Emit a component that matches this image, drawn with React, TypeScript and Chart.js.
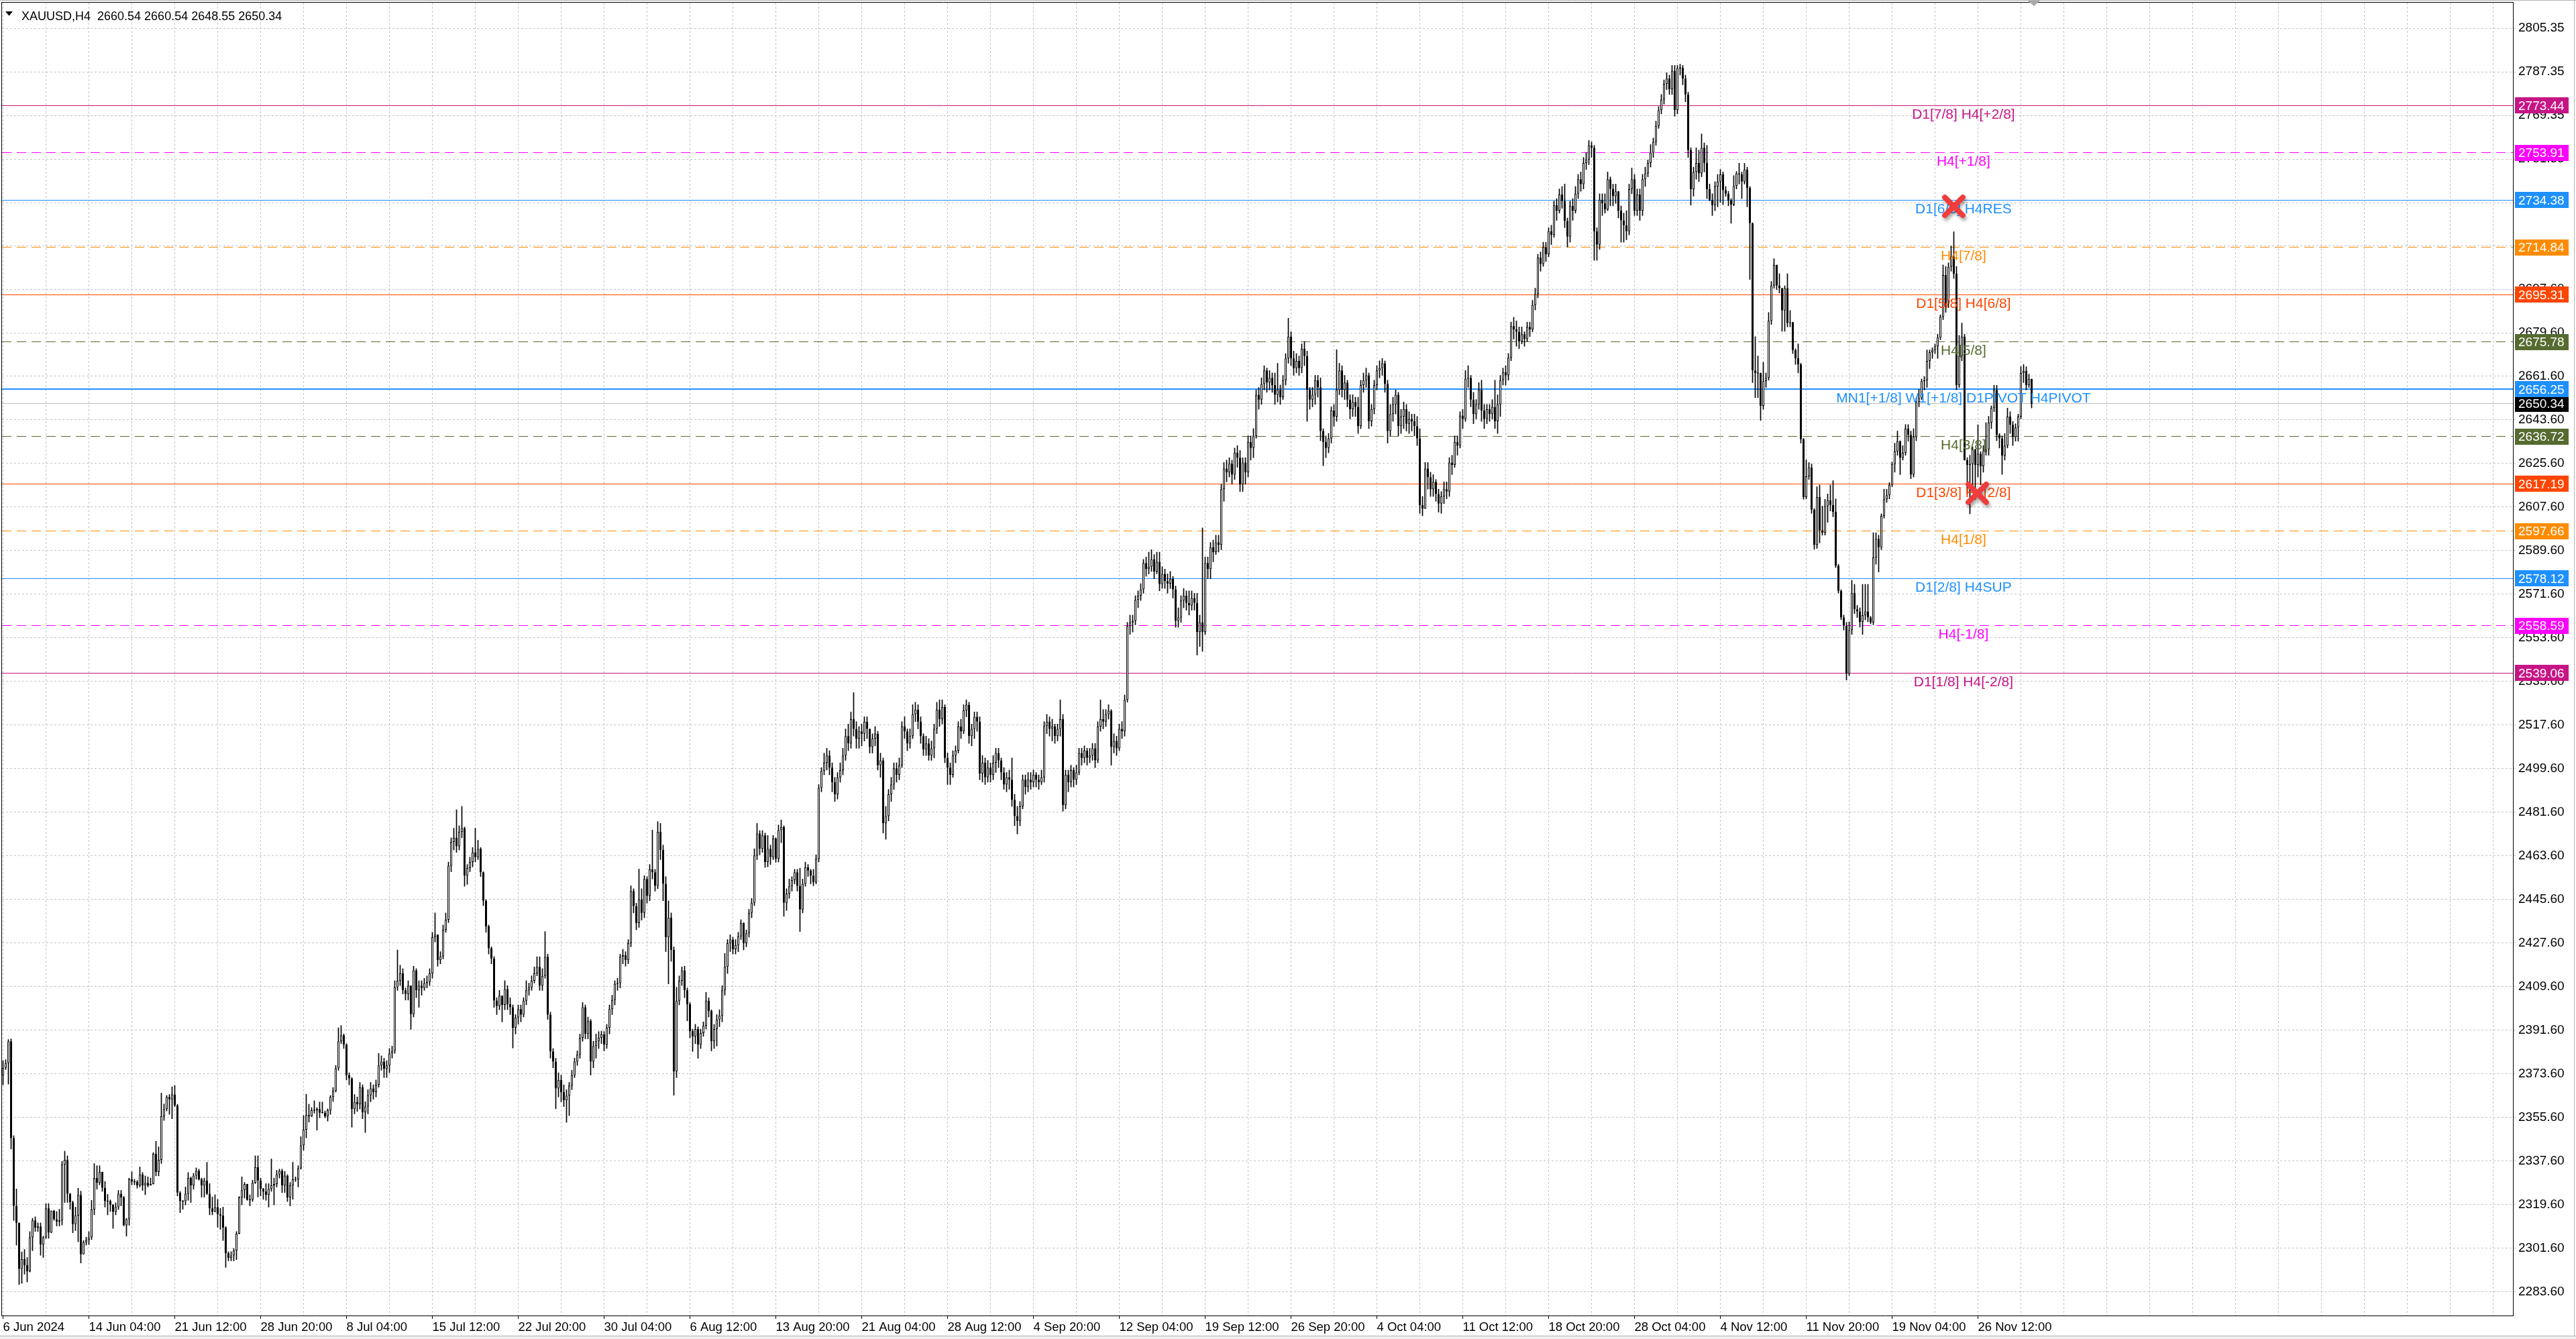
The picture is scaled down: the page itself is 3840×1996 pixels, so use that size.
import React, { useEffect, useRef } from 'react';
import { Chart, registerables } from 'chart.js';

Chart.register(...registerables);

// ---------------- DATA ----------------
const headerText = 'XAUUSD,H4  2660.54 2660.54 2648.55 2650.34';
const firstOpen = 2373;

const closes = [
  2376, 2378, 2387, 2347, 2319, 2312, 2293, 2297, 2294.5, 2292,
  2306, 2313, 2310, 2310.5, 2303, 2306, 2318, 2308, 2317, 2313.5,
  2312.5, 2313, 2336, 2338, 2324, 2320.5, 2311.5, 2315, 2323.5, 2299,
  2304, 2305, 2306, 2317.5, 2330.5, 2328.5, 2333, 2326.5, 2321, 2321,
  2319.5, 2316.5, 2318.5, 2324, 2322.5, 2311, 2313.5, 2330, 2329, 2329,
  2327.5, 2332, 2327.5, 2328.5, 2327.5, 2328, 2340.5, 2333, 2338, 2356,
  2359, 2364, 2363, 2365, 2360.5, 2324.5, 2321, 2321, 2324, 2330.5,
  2327.5, 2331.5, 2333.5, 2330, 2327.5, 2329.5, 2324, 2318, 2316.5, 2318.5,
  2315.5, 2315, 2310, 2299.5, 2297.5, 2298.5, 2300.5, 2307.5, 2322.5, 2325.5,
  2328, 2321.5, 2321.5, 2328.5, 2335, 2329.5, 2326, 2325, 2323.5, 2326,
  2327.5, 2328, 2332, 2333.5, 2327.5, 2331.5, 2322.5, 2327.5, 2330, 2330,
  2334.5, 2344, 2350.5, 2356.5, 2356, 2358.5, 2358.5, 2359, 2357.5, 2357.5,
  2356, 2358.5, 2364, 2366.5, 2375.8, 2387, 2389.5, 2385.6, 2373, 2371.7,
  2359, 2362, 2361, 2368, 2357.7, 2360, 2364.7, 2367.5, 2366, 2369,
  2377, 2378.6, 2375.6, 2377, 2382, 2383, 2409.3, 2412, 2415, 2408,
  2406.5, 2410, 2398.2, 2416.3, 2408, 2410, 2409, 2411, 2411.5, 2415,
  2430, 2431, 2420.5, 2422, 2433, 2437.2, 2459.5, 2469.3, 2471, 2467.5,
  2473.5, 2475, 2455.4, 2458.5, 2461, 2465, 2463, 2466.5, 2456.8, 2445,
  2434.4, 2425.4, 2421.2, 2403.8, 2401.5, 2405.8, 2402, 2408.5, 2402.3, 2401,
  2392.6, 2396.8, 2400.3, 2398, 2403.7, 2408, 2409.3, 2412, 2415, 2417.7,
  2410, 2414, 2421.9, 2398, 2382.8, 2378.6, 2367.5, 2371, 2366, 2362.6,
  2364.5, 2368.7, 2373, 2378.6, 2381.4, 2388.4, 2401, 2390, 2395.4, 2378.6,
  2385, 2387, 2388.4, 2389.8, 2385.6, 2392.6, 2400.3, 2404, 2410.7, 2411,
  2421.9, 2422.5, 2420.5, 2427.5, 2449, 2442.8, 2435.8, 2445.6, 2440, 2454,
  2447, 2458, 2456.8, 2451.2, 2473.5, 2466, 2452, 2430, 2438, 2424.7,
  2374.5, 2403.7, 2412, 2416.3, 2408, 2402.3, 2391.2, 2389, 2392, 2385.6,
  2390.4, 2393.4, 2403.7, 2399.5, 2387, 2392, 2396, 2397.5, 2408, 2417.7,
  2427.5, 2429, 2425, 2426.7, 2430.3, 2435.8, 2427.5, 2431.6, 2440, 2444.2,
  2463.7, 2472.8, 2466.5, 2472, 2461, 2466.5, 2463, 2470.7, 2462.3, 2474.2,
  2475.5, 2444.2, 2448, 2451, 2453.5, 2456.8, 2451.2, 2441.4, 2452, 2458.8,
  2457.5, 2455.4, 2452.6, 2462.3, 2491.6, 2498.6, 2502, 2505, 2500, 2494,
  2489, 2496, 2499, 2505, 2513, 2510, 2520, 2516, 2512, 2515,
  2514, 2519, 2516, 2508.5, 2512, 2514, 2501, 2503, 2477, 2480,
  2489, 2493, 2499.7, 2497, 2501, 2517, 2515, 2510, 2513, 2522,
  2524, 2519, 2513, 2507.5, 2510, 2505, 2508, 2516, 2524, 2520,
  2525, 2504, 2500, 2497, 2505, 2507, 2517, 2515, 2523.6, 2526,
  2513, 2516, 2521, 2519, 2497.6, 2502, 2496, 2500, 2497, 2502,
  2506, 2503, 2498, 2493, 2496, 2495, 2486.7, 2480, 2478, 2484,
  2495, 2492, 2495, 2494, 2497, 2495, 2494, 2496, 2517.2, 2519,
  2516, 2517, 2513, 2516, 2520, 2484.5, 2497, 2494, 2499, 2495,
  2498, 2506, 2504, 2507, 2504, 2505, 2508, 2503, 2517, 2520,
  2519, 2522, 2523.5, 2508.5, 2511, 2508, 2516, 2515, 2528, 2558.4,
  2560, 2560.6, 2569.3, 2571, 2573.6, 2584.5, 2582, 2583, 2586, 2581,
  2585, 2575.8, 2580, 2577, 2576, 2578, 2573.6, 2560.6, 2562, 2569,
  2571, 2568, 2567, 2570, 2568, 2556, 2560, 2556, 2584.5, 2582,
  2591, 2589, 2593, 2592, 2615, 2623.5, 2622, 2625.5, 2621, 2630,
  2628, 2617, 2626, 2622, 2634.5, 2632, 2637, 2654, 2652, 2658.4,
  2664, 2659, 2661, 2658, 2654, 2656, 2653, 2660, 2669, 2678,
  2669, 2665, 2668, 2665, 2673, 2670, 2656, 2652, 2654, 2660,
  2657, 2639, 2634.5, 2632, 2636, 2647.5, 2645, 2656, 2664, 2656,
  2659, 2652, 2648, 2651, 2649, 2641, 2658, 2660, 2662, 2643,
  2648, 2658, 2664, 2665, 2667, 2658.5, 2639, 2646, 2650, 2654,
  2641, 2645, 2648, 2642, 2644, 2643, 2641, 2636, 2608.4, 2607,
  2623.5, 2620, 2615, 2618, 2613, 2609, 2612, 2615, 2614, 2626,
  2625, 2634.5, 2633, 2645.4, 2644, 2660.6, 2661, 2652, 2646, 2650,
  2656, 2647.5, 2644, 2648, 2646, 2649, 2643, 2650, 2660, 2663.3,
  2662, 2669.3, 2682.3, 2681, 2680, 2676, 2679, 2677, 2682, 2681,
  2691, 2695.5, 2710.6, 2708, 2715, 2712, 2721.5, 2720, 2732.3, 2730,
  2736.7, 2734, 2725.8, 2719.3, 2732, 2730, 2737, 2743, 2741, 2749.7,
  2751, 2757, 2756, 2721.5, 2716, 2734.5, 2733, 2730.5, 2743, 2739,
  2736, 2738, 2730, 2726, 2724, 2721.5, 2738.9, 2743, 2730, 2736.7,
  2730, 2743, 2745.4, 2749.7, 2754, 2758.4, 2765, 2771.5, 2775.9, 2782.4,
  2784.5, 2780.2, 2787.8, 2771.5, 2788.9, 2789, 2784.5, 2778, 2755, 2738.9,
  2746, 2749.7, 2745.4, 2756, 2749.7, 2738.9, 2734.5, 2732.3, 2740, 2742,
  2745, 2738.5, 2737, 2734.2, 2732.5, 2740.2, 2745.4, 2745, 2742, 2747,
  2739.4, 2724.8, 2664, 2663, 2663, 2649.4, 2659.6, 2661, 2684.5, 2699.1,
  2707.6, 2699.1, 2698, 2688.8, 2698, 2683.6, 2684, 2672.5, 2669.1, 2666.5,
  2635.6, 2611.7, 2620.3, 2624, 2606.5, 2592, 2611.7, 2598, 2597, 2608,
  2610.4, 2608.5, 2605.6, 2583.4, 2573, 2562, 2558.5, 2538.8, 2556.8, 2572.2,
  2565.4, 2564.5, 2560.2, 2563, 2564.5, 2562, 2560, 2586.8, 2594.5, 2591,
  2604, 2610.8, 2612.5, 2616.8, 2625.4, 2630.6, 2634.8, 2627.9, 2630, 2640,
  2637.4, 2621, 2636.5, 2651, 2652.6, 2659.6, 2660, 2668, 2671.6, 2672.5,
  2674, 2677.6, 2686.2, 2703.4, 2691.7, 2706.8, 2711, 2704, 2657.9, 2670,
  2678, 2627, 2625, 2625.4, 2631.5, 2625, 2629.7, 2624.5, 2630.6, 2631.5,
  2642.5, 2648.5, 2656, 2637.4, 2636, 2628.8, 2633, 2645, 2641.6, 2636.5,
  2640.5, 2645, 2663, 2663.8, 2658, 2660.54, 2650.34,
];

const highs = [
  2379, 2379.4, 2387.7, 2388, 2348, 2326, 2312, 2300, 2301, 2297.7,
  2308.4, 2313.9, 2314.5, 2312, 2312, 2306.5, 2319.9, 2320, 2317, 2317.2,
  2316.7, 2317.6, 2337.4, 2341.6, 2339.7, 2324.2, 2321, 2318.5, 2326.3, 2325.1,
  2304.7, 2306.1, 2308.4, 2321.3, 2336.5, 2335.6, 2335.6, 2331.4, 2329.1, 2323.8,
  2321.5, 2319.6, 2320.3, 2325.4, 2325.4, 2323, 2313.9, 2330.5, 2333.1, 2330,
  2329.5, 2335.1, 2332.8, 2331.4, 2331, 2330.5, 2341, 2345.7, 2343.4, 2365.6,
  2361.1, 2364.6, 2365, 2368.2, 2368.8, 2361, 2325, 2321.3, 2326.8, 2332.8,
  2331, 2332.5, 2334.7, 2334.2, 2330.5, 2330.5, 2337, 2328.2, 2322.7, 2323.6,
  2321.7, 2318, 2318.5, 2310.5, 2300.1, 2300.1, 2301.4, 2308.4, 2322.9, 2331,
  2328.7, 2327.7, 2323.6, 2329.6, 2339.7, 2339.7, 2330.5, 2326.3, 2328.2, 2328.2,
  2338.4, 2330.5, 2333.7, 2334.2, 2334.2, 2333.3, 2331.9, 2328.7, 2337, 2331,
  2335.6, 2347.6, 2356.3, 2365.1, 2361, 2359.6, 2362.4, 2359.6, 2361.9, 2361.9,
  2358.2, 2359.1, 2364.6, 2367.9, 2377, 2392.6, 2393.5, 2390, 2386, 2374,
  2372, 2365, 2364, 2370, 2369, 2362, 2367, 2370, 2369, 2371,
  2382, 2381, 2380, 2379, 2384, 2385, 2412, 2424.7, 2418.4, 2417,
  2409, 2412, 2410, 2418, 2417, 2412, 2412, 2413, 2414, 2417,
  2432, 2440, 2431, 2424, 2435, 2440, 2461, 2471, 2475, 2482.6,
  2476, 2484, 2475.5, 2460, 2463, 2467, 2475, 2470, 2467, 2457,
  2445.5, 2435, 2426, 2422, 2405, 2408, 2404, 2412, 2410, 2405,
  2402, 2398, 2402, 2402, 2405, 2412, 2411, 2414, 2417.7, 2421.9,
  2421.9, 2417, 2432.3, 2423, 2399, 2384, 2380, 2374, 2373, 2369,
  2367, 2370, 2375, 2380, 2383, 2390, 2403, 2402, 2397, 2396,
  2387, 2390, 2391, 2391.2, 2391, 2394, 2402, 2406, 2412, 2413,
  2423, 2425, 2424, 2429, 2451.2, 2450, 2444, 2458.1, 2450, 2455.4,
  2455, 2460, 2474.2, 2458, 2477.7, 2477, 2468, 2455, 2445, 2440,
  2426, 2409.3, 2414, 2417.7, 2418, 2409, 2403, 2392, 2394, 2393,
  2392, 2395, 2407.2, 2405, 2400, 2394, 2398, 2400, 2410, 2423.3,
  2429, 2431, 2430, 2429, 2432, 2437.2, 2436, 2433, 2441.5, 2446,
  2466.5, 2477, 2474, 2474, 2473, 2472, 2468, 2472, 2471, 2476.3,
  2478.4, 2476, 2450, 2454, 2455, 2458, 2458, 2458.5, 2454, 2461,
  2460, 2458, 2458, 2464, 2493, 2500, 2506, 2508, 2507, 2502,
  2496, 2498, 2502, 2508, 2516, 2518, 2523, 2531, 2519, 2517,
  2518, 2521, 2521, 2516, 2514, 2517, 2515, 2506, 2504, 2484,
  2491, 2496, 2502, 2502, 2504, 2519, 2521, 2516, 2516, 2526,
  2527, 2526, 2521, 2514, 2513, 2512, 2511, 2518, 2527, 2528,
  2528, 2526, 2506, 2502, 2507, 2509, 2519, 2520, 2526, 2528,
  2527, 2518, 2523, 2523, 2521, 2505, 2504, 2503, 2502, 2505,
  2508, 2508, 2504, 2500, 2498, 2499, 2504, 2489, 2484, 2486,
  2497, 2497, 2498, 2498, 2499, 2498, 2497, 2499, 2519, 2522,
  2521, 2520, 2518, 2518, 2528, 2522, 2499, 2499, 2501, 2500,
  2501, 2508, 2508, 2509, 2508, 2508, 2510, 2510, 2519, 2528,
  2524, 2524, 2526, 2524, 2514, 2513, 2518, 2519, 2530, 2560,
  2563, 2563, 2571, 2573, 2576, 2586, 2587, 2589, 2590, 2588,
  2589, 2589, 2583, 2582, 2580, 2581, 2579, 2575, 2566, 2571,
  2574, 2573, 2573, 2573, 2572, 2572, 2563, 2599, 2587, 2587,
  2593, 2594, 2596, 2596, 2617, 2626, 2627, 2628, 2627, 2632,
  2633, 2631, 2628, 2628, 2637, 2637, 2640, 2656, 2657, 2661,
  2666, 2665, 2664, 2663, 2663, 2667, 2658, 2662, 2671, 2685.6,
  2680, 2672, 2671, 2670, 2675, 2676, 2672, 2657, 2657, 2662,
  2662, 2661, 2640, 2637, 2638, 2649, 2650, 2672.6, 2667, 2666,
  2662, 2660, 2654, 2654, 2653, 2653, 2660, 2663, 2665, 2663,
  2650, 2660, 2666, 2668, 2669, 2668, 2660, 2650, 2653, 2656,
  2655, 2648, 2651, 2650, 2647, 2646, 2646, 2645, 2640, 2612,
  2626, 2626, 2622, 2621, 2619, 2615, 2614, 2618, 2618, 2628,
  2629, 2637, 2637, 2647, 2648, 2664, 2666, 2662, 2655, 2652,
  2659, 2660, 2650, 2650, 2650, 2652, 2660, 2654, 2662, 2665,
  2666, 2671, 2684, 2686, 2684.5, 2682, 2682, 2680, 2684, 2684,
  2693, 2698, 2712, 2713, 2717, 2717, 2723, 2724, 2734, 2735,
  2739, 2740, 2741, 2727, 2734, 2735, 2740, 2745, 2746, 2752,
  2754, 2759, 2758.4, 2757, 2723, 2737, 2737, 2737, 2746, 2744,
  2741, 2741, 2737, 2732, 2729, 2730, 2741, 2747.6, 2745, 2739,
  2739, 2745, 2748, 2751, 2757.3, 2760, 2767, 2773, 2778, 2784,
  2787, 2786, 2790, 2790, 2790, 2790.5, 2790, 2786, 2779, 2756,
  2748, 2756, 2755, 2761.7, 2758, 2757, 2741, 2737, 2742, 2745,
  2747, 2746, 2740, 2738, 2735, 2744.5, 2746.2, 2749.6, 2746, 2749.6,
  2748, 2740, 2725, 2678, 2670, 2663, 2667.4, 2663, 2688, 2700.8,
  2710.2, 2706.8, 2704, 2697, 2699, 2704, 2688.8, 2684, 2673, 2675,
  2667, 2636, 2627.1, 2626, 2625.4, 2607, 2616, 2616.7, 2608, 2610.8,
  2613, 2616.7, 2618.5, 2611, 2584, 2573.5, 2563, 2560, 2560.2, 2577.4,
  2575.7, 2567, 2566, 2575.7, 2575.7, 2575.7, 2562.5, 2597, 2597, 2596,
  2604.8, 2615, 2615, 2617.7, 2626.2, 2634, 2639, 2635, 2633, 2641.7,
  2641.7, 2639, 2640, 2652.8, 2656.2, 2660.5, 2661.5, 2672.5, 2672.5, 2673.4,
  2675, 2679, 2687, 2707.6, 2707, 2708.5, 2715.4, 2721.3, 2707, 2678.5,
  2683.6, 2679, 2628, 2629, 2632.5, 2629, 2641.6, 2630.5, 2633, 2642.5,
  2645.1, 2649.4, 2657.9, 2657.9, 2638, 2637, 2638, 2648.5, 2647, 2643,
  2642, 2646, 2665.6, 2666.5, 2665.6, 2662.5, 2660.54,
];

const lows = [
  2369, 2375.3, 2369.3, 2342.5, 2313, 2302.8, 2286.5, 2287, 2290.8, 2287.6,
  2291.7, 2300.5, 2308.4, 2308.4, 2298.6, 2297.7, 2305.5, 2305.6, 2307.9, 2313,
  2310.7, 2310.7, 2311.1, 2320.4, 2320.4, 2317.6, 2307.9, 2308.8, 2304.2, 2295.4,
  2299.1, 2302.8, 2303, 2305.1, 2315.3, 2325.9, 2327.7, 2325, 2318.5, 2315.3,
  2316.7, 2309.7, 2315.3, 2317.5, 2319, 2310.7, 2306.5, 2311, 2327.7, 2327.7,
  2326.3, 2326.8, 2325.4, 2323.6, 2326.8, 2327.7, 2328.7, 2331.4, 2331.4, 2336.5,
  2354.3, 2358.2, 2356.8, 2355, 2360, 2323.1, 2316.2, 2317.6, 2319.4, 2321.3,
  2320.4, 2325.9, 2330, 2329.6, 2322.6, 2322.6, 2323.6, 2315.3, 2315.3, 2316.7,
  2310.2, 2309.3, 2304.7, 2293.6, 2296.3, 2296.3, 2296.3, 2296.8, 2307.4, 2319.4,
  2322.2, 2321.3, 2319, 2320.8, 2328.2, 2322.7, 2323.1, 2321.7, 2321.3, 2318.5,
  2325, 2319.4, 2326.8, 2330.5, 2324.5, 2324.5, 2320.8, 2319, 2321.7, 2329.1,
  2326.8, 2334.2, 2342, 2347.1, 2353.6, 2355.9, 2357.3, 2350.3, 2355.4, 2357.3,
  2355.4, 2354, 2356.8, 2362.1, 2366, 2375, 2386, 2384, 2371, 2369,
  2351.5, 2357, 2358, 2359, 2355, 2349.3, 2357, 2362, 2363, 2364,
  2368, 2375, 2372, 2372, 2374, 2380, 2382, 2408, 2410, 2406.5,
  2404, 2404, 2391.9, 2397, 2405, 2401, 2406, 2408, 2409, 2410,
  2413, 2428, 2418, 2419, 2421, 2432, 2436, 2457, 2466, 2465,
  2466, 2471, 2451, 2451.8, 2457, 2459, 2461, 2462, 2455, 2443,
  2432, 2423, 2419, 2401, 2398, 2400, 2395, 2400, 2400, 2398,
  2384.2, 2390, 2394, 2395, 2397, 2402, 2406, 2408, 2411, 2414,
  2408, 2408, 2413, 2396, 2380, 2376, 2359.1, 2364, 2362, 2360,
  2353.5, 2356.3, 2367, 2372, 2377, 2380, 2387, 2388, 2388, 2373,
  2376, 2380, 2384, 2386, 2383, 2384, 2390, 2398, 2402, 2408,
  2409, 2419, 2418, 2419, 2426, 2440, 2433, 2434, 2437, 2438,
  2444, 2445, 2454, 2449, 2450, 2462, 2445, 2424, 2410.7, 2420,
  2364.7, 2372, 2402, 2410, 2405, 2395.4, 2388.4, 2382.8, 2386, 2380,
  2384, 2389, 2392, 2397, 2383, 2384, 2385, 2393, 2395, 2406,
  2415, 2424, 2423, 2423, 2424, 2429, 2424.7, 2426, 2430, 2438,
  2443, 2462, 2464, 2465, 2458.8, 2459, 2460, 2462, 2460.9, 2461,
  2469, 2438.6, 2441, 2446, 2449, 2452, 2449, 2432.3, 2440, 2451,
  2455, 2452, 2451.2, 2452, 2461, 2490, 2497, 2499, 2497, 2490,
  2486, 2487, 2494, 2497, 2503, 2507, 2508, 2513, 2508, 2508,
  2509, 2511, 2512, 2506, 2506, 2509, 2499, 2496, 2473, 2470.4,
  2478, 2486, 2491, 2494, 2495, 2500, 2512, 2507, 2508, 2512,
  2519, 2516, 2510, 2505, 2505, 2503, 2503, 2504, 2514, 2517,
  2518, 2502, 2493, 2493, 2496, 2502, 2506, 2512, 2514, 2521,
  2510, 2509, 2512, 2515, 2495, 2494, 2493, 2494, 2494, 2495,
  2498, 2500, 2495, 2491, 2490, 2491, 2484, 2476, 2472.6, 2476,
  2483, 2489, 2490, 2491, 2492, 2492, 2491, 2493, 2494, 2514,
  2513, 2511, 2510, 2511, 2513, 2482, 2483, 2490, 2492, 2492,
  2493, 2497, 2501, 2502, 2501, 2502, 2503, 2500, 2502, 2515,
  2516, 2517, 2520, 2501, 2506, 2505, 2507, 2512, 2513, 2527,
  2555, 2556, 2559, 2566, 2569, 2572, 2579, 2580, 2581, 2578,
  2580, 2573, 2574, 2574, 2572, 2574, 2570, 2558, 2558, 2560,
  2566, 2565, 2563, 2565, 2565, 2546.5, 2550, 2548, 2555, 2578,
  2578, 2585, 2588, 2589, 2590, 2610, 2618, 2620, 2617, 2619,
  2624, 2614, 2614, 2617, 2620, 2627, 2628, 2636, 2648, 2650,
  2656, 2655, 2656, 2655, 2650, 2651, 2650, 2652, 2658, 2667,
  2666, 2662, 2663, 2662, 2663, 2666, 2643, 2648, 2649, 2650,
  2653, 2635, 2624.7, 2628, 2630, 2634, 2641, 2643, 2654, 2653,
  2652, 2649, 2644, 2645, 2645, 2638, 2640, 2655, 2657, 2640,
  2641, 2646, 2656, 2661, 2662, 2655, 2634, 2637, 2643, 2646,
  2637, 2638, 2640, 2639, 2638, 2639, 2637, 2633, 2605, 2604,
  2607, 2615, 2612, 2612, 2610, 2605.5, 2605, 2609, 2611, 2612,
  2621, 2624, 2629, 2632, 2640, 2643, 2657, 2649, 2642, 2644,
  2648, 2643, 2640, 2642, 2643, 2644, 2640, 2638, 2645, 2658,
  2658, 2660, 2668, 2677, 2674, 2673, 2675, 2674, 2676, 2678,
  2680, 2689, 2694, 2705, 2707, 2709, 2711, 2716, 2719, 2726,
  2729, 2731, 2723, 2715, 2717, 2726, 2729, 2735, 2738, 2739,
  2747, 2749, 2752, 2709.5, 2709.5, 2714, 2728, 2729, 2730, 2732,
  2732, 2733, 2727, 2717, 2717, 2718, 2720, 2737, 2728, 2728,
  2726, 2728, 2740, 2744, 2748, 2752, 2757, 2764, 2770, 2774,
  2780, 2778, 2778, 2769, 2770, 2786, 2782, 2775, 2752, 2732.3,
  2736, 2743, 2742, 2744, 2746, 2735, 2734, 2728, 2730, 2731.6,
  2733.4, 2732.5, 2735.9, 2732, 2724.8, 2732, 2739, 2741, 2735, 2741,
  2731.6, 2701.6, 2659, 2652.8, 2652.8, 2643.4, 2648, 2657, 2660, 2683,
  2698, 2697.4, 2696, 2680.2, 2680.2, 2682, 2682, 2671, 2666.5, 2663,
  2634, 2610.8, 2611, 2619, 2605, 2590.2, 2590.5, 2592.8, 2596, 2596,
  2601.3, 2606, 2603.6, 2582.6, 2572.1, 2561.1, 2556.8, 2536.2, 2538, 2555,
  2563.6, 2562, 2558, 2555, 2561, 2560.2, 2559.4, 2559, 2584, 2580.8,
  2590, 2603, 2609.5, 2611, 2616, 2622, 2629, 2621, 2627, 2629,
  2634.8, 2619.3, 2620, 2635, 2649, 2652, 2656, 2657, 2664.8, 2669,
  2671, 2669, 2676.7, 2685, 2688, 2690, 2705, 2702, 2656, 2657,
  2668, 2626.9, 2613, 2604.8, 2615, 2610.8, 2620, 2616.8, 2622, 2629,
  2629, 2640, 2647, 2635, 2632, 2621.1, 2627, 2632, 2638, 2633,
  2634.8, 2634.8, 2644, 2659, 2656, 2657, 2648.55,
];

const xLabels = [
  '6 Jun 2024', '14 Jun 04:00', '21 Jun 12:00', '28 Jun 20:00', '8 Jul 04:00', '15 Jul 12:00',
  '22 Jul 20:00', '30 Jul 04:00', '6 Aug 12:00', '13 Aug 20:00', '21 Aug 04:00', '28 Aug 12:00',
  '4 Sep 20:00', '12 Sep 04:00', '19 Sep 12:00', '26 Sep 20:00', '4 Oct 04:00', '11 Oct 12:00',
  '18 Oct 20:00', '28 Oct 04:00', '4 Nov 12:00', '11 Nov 20:00', '19 Nov 04:00', '26 Nov 12:00',
];
const xLabelStep = 32;
const xGridStep = 16;

const yTicks = [
  2283.6, 2301.6, 2319.6, 2337.6, 2355.6, 2373.6, 2391.6, 2409.6, 2427.6, 2445.6,
  2463.6, 2481.6, 2499.6, 2517.6, 2535.6, 2553.6, 2571.6, 2589.6, 2607.6, 2625.6,
  2643.6, 2661.6, 2679.6, 2697.6, 2715.6, 2733.35, 2751.35, 2769.35, 2787.35, 2805.35,
];

const levelValues = [2773.44, 2753.91, 2734.38, 2714.84, 2695.31, 2675.78, 2656.25, 2636.72, 2617.19, 2597.66, 2578.12, 2558.59, 2539.06];
const levelLabels = [
  'D1[7/8] H4[+2/8]', 'H4[+1/8]', 'D1[6/8] H4RES', 'H4[7/8]', 'D1[5/8] H4[6/8]', 'H4[5/8]',
  'MN1[+1/8] W1[+1/8] D1PIVOT H4PIVOT', 'H4[3/8]', 'D1[3/8] H4[2/8]', 'H4[1/8]', 'D1[2/8] H4SUP', 'H4[-1/8]', 'D1[1/8] H4[-2/8]',
];
const levelColors = ['#C71585', '#FF00FF', '#1E90FF', '#FF8C00', '#FF4500', '#556B2F', '#1E90FF', '#556B2F', '#FF4500', '#FF8C00', '#1E90FF', '#FF00FF', '#C71585'];
const levelDashed = [false, true, false, true, false, true, false, true, false, true, false, true, false];
const levelWidths = [1, 1, 1, 1, 1, 1, 2, 1, 1, 1, 1, 1, 1];
const currentPrice = 2650.34;

const markerBars = [727, 735.75];
const markerPrices = [2731.8, 2613.3];

// ---------------- LAYOUT ----------------
const W = 3840;
const H = 1996;
const xMin = -0.375;
const xMax = 935.375;
const yMin = 2273.73;
const yMax = 2815.91;
const labelBar = 730.6;
const FONT = '"Liberation Sans", Arial, Helvetica, sans-serif';

export default function App() {
  const canvasRef = useRef<HTMLCanvasElement | null>(null);

  useEffect(() => {
    document.body.style.margin = '0';
    const canvas = canvasRef.current;
    if (!canvas) return;

    const opens = closes.map((c, i) => (i === 0 ? firstOpen : closes[i - 1]));
    const wickData = closes.map((c, i) => ({
      x: i,
      y: [Math.min(lows[i], opens[i], c), Math.max(highs[i], opens[i], c)],
    }));
    const bodyData = closes.map((c, i) => {
      const o = opens[i];
      let lo = Math.min(o, c);
      let hi = Math.max(o, c);
      if (hi - lo < 0.5) {
        const m = (o + c) / 2;
        lo = m - 0.2;
        hi = m + 0.2;
      }
      return { x: i, y: [lo, hi] };
    });
    const bodyFill = closes.map((c, i) => (c - opens[i] >= 0.5 ? '#ffffff' : '#000000'));

    const datasets: any[] = [
      {
        type: 'bar',
        data: wickData,
        backgroundColor: '#000000',
        borderWidth: 0,
        grouped: false,
        barPercentage: 1,
        categoryPercentage: 1,
        maxBarThickness: 1,
        order: 3,
      },
      {
        type: 'bar',
        data: bodyData,
        backgroundColor: bodyFill,
        borderColor: '#000000',
        borderWidth: 1,
        borderSkipped: false,
        grouped: false,
        barPercentage: 1,
        categoryPercentage: 0.75,
        maxBarThickness: 3,
        order: 2,
      },
      {
        type: 'line',
        data: markerBars.map((b, i) => ({ x: b, y: markerPrices[i] })),
        showLine: false,
        pointStyle: 'crossRot',
        pointRadius: 19,
        pointBorderWidth: 8,
        pointBorderColor: '#f03c3c',
        pointBackgroundColor: '#f03c3c',
        order: 0,
      },
    ];
    const markerIndex = datasets.length - 1;

    const overlay = {
      id: 'mt4overlay',
      beforeDatasetsDraw(chart: any) {
        // horizontal level lines, snapped to the pixel grid, mapped through the y scale
        const ctx = chart.ctx;
        const ca = chart.chartArea;
        const ys = chart.scales.y;
        ctx.save();
        const hline = (v: number, color: string, width: number, dashed: boolean) => {
          const y = ys.getPixelForValue(v);
          const yy = width % 2 === 1 ? Math.floor(y) + 0.5 : Math.round(y);
          ctx.strokeStyle = color;
          ctx.lineWidth = width;
          ctx.setLineDash(dashed ? [14, 8] : []);
          ctx.beginPath();
          ctx.moveTo(ca.left, yy);
          ctx.lineTo(ca.right, yy);
          ctx.stroke();
        };
        hline(currentPrice, '#c0c0c0', 1, false);
        levelValues.forEach((v, i) => hline(v, levelColors[i], levelWidths[i], levelDashed[i]));
        ctx.restore();
      },
      beforeDatasetDraw(chart: any, args: any) {
        if (args.index !== markerIndex) return;
        const ctx = chart.ctx;
        const xs = chart.scales.x;
        const ys = chart.scales.y;
        const ca = chart.chartArea;
        ctx.save();
        ctx.beginPath();
        ctx.rect(ca.left, ca.top, ca.right - ca.left, ca.bottom - ca.top);
        ctx.clip();
        ctx.font = '21px ' + FONT;
        ctx.textAlign = 'center';
        ctx.textBaseline = 'alphabetic';
        const cx = xs.getPixelForValue(labelBar);
        levelValues.forEach((v, i) => {
          ctx.fillStyle = levelColors[i];
          ctx.fillText(levelLabels[i], cx, ys.getPixelForValue(v) + 19.5);
        });
        ctx.restore();
        ctx.save();
        ctx.shadowColor = 'rgba(0,0,0,0.35)';
        ctx.shadowBlur = 5;
        ctx.shadowOffsetX = 2;
        ctx.shadowOffsetY = 4;
        ctx.lineCap = 'round';
      },
      afterDatasetDraw(chart: any, args: any) {
        if (args.index === markerIndex) chart.ctx.restore();
      },
      afterDraw(chart: any) {
        const ctx = chart.ctx;
        const ys = chart.scales.y;
        const ca = chart.chartArea;
        ctx.save();
        // window edges
        ctx.fillStyle = '#f0f0f0';
        ctx.fillRect(0, 1992, W, H - 1992);
        ctx.strokeStyle = '#b4b4b4';
        ctx.lineWidth = 1;
        ctx.beginPath();
        ctx.moveTo(0, 0.5); ctx.lineTo(W, 0.5);
        ctx.moveTo(3837.5, 0); ctx.lineTo(3837.5, 1992);
        ctx.moveTo(0, 1991.5); ctx.lineTo(W, 1991.5);
        ctx.stroke();
        // chart frame
        ctx.strokeStyle = '#000000';
        ctx.beginPath();
        ctx.moveTo(2.5, ca.top - 0.5); ctx.lineTo(2.5, ca.bottom + 0.5);
        ctx.moveTo(2, ca.top - 0.5); ctx.lineTo(ca.right + 1, ca.top - 0.5);
        ctx.moveTo(ca.right + 0.5, ca.top - 0.5); ctx.lineTo(ca.right + 0.5, ca.bottom + 1);
        ctx.moveTo(2, ca.bottom + 0.5); ctx.lineTo(ca.right + 1, ca.bottom + 0.5);
        ctx.stroke();
        // chart shift marker
        ctx.fillStyle = '#a8a8a8';
        ctx.beginPath();
        ctx.moveTo(3023, 1); ctx.lineTo(3041, 1); ctx.lineTo(3032, 9); ctx.closePath();
        ctx.fill();
        // header
        ctx.fillStyle = '#000000';
        ctx.beginPath();
        ctx.moveTo(8, 17); ctx.lineTo(19, 17); ctx.lineTo(13.5, 23.5); ctx.closePath();
        ctx.fill();
        ctx.font = '18px ' + FONT;
        ctx.textAlign = 'left';
        ctx.textBaseline = 'alphabetic';
        ctx.fillText(headerText, 32, 29.5);
        // price badges
        ctx.font = '19px ' + FONT;
        ctx.textBaseline = 'middle';
        const badge = (v: number, color: string) => {
          const y = ys.getPixelForValue(v);
          ctx.fillStyle = color;
          ctx.fillRect(ca.right + 3, Math.round(y - 12), 80, 24);
          ctx.fillStyle = '#ffffff';
          ctx.fillText(v.toFixed(2), ca.right + 8, y + 1);
        };
        badge(currentPrice, '#000000');
        levelValues.forEach((v, i) => badge(v, levelColors[i]));
        ctx.restore();
      },
    };

    const chart = new Chart(canvas, {
      type: 'bar',
      data: { datasets },
      options: {
        responsive: false,
        maintainAspectRatio: false,
        devicePixelRatio: 1,
        animation: false,
        events: [],
        layout: { autoPadding: false, padding: { left: 3, top: 4, right: 0, bottom: 0 } },
        plugins: { legend: { display: false }, tooltip: { enabled: false }, title: { display: false } },
        scales: {
          x: {
            type: 'linear',
            min: xMin,
            max: xMax,
            offset: false,
            bounds: 'data',
            afterBuildTicks: (s: any) => {
              const t: any[] = [];
              for (let v = 0; v <= xMax; v += xGridStep) t.push({ value: v });
              s.ticks = t;
            },
            afterFit: (s: any) => {
              s.height = 35;
              s.paddingLeft = 0;
              s.paddingRight = 0;
            },
            ticks: {
              autoSkip: false,
              maxRotation: 0,
              minRotation: 0,
              align: 'start',
              padding: 2,
              color: '#000000',
              font: { family: FONT, size: 18.5 },
              callback: (v: any) => {
                const k = Number(v) / xLabelStep;
                return Number.isInteger(k) && k < xLabels.length ? xLabels[k] : '';
              },
            },
            grid: {
              color: '#c4c4c4',
              lineWidth: 1,
              offset: false,
              drawTicks: true,
              tickLength: 5,
              tickColor: (c: any) => {
                const v = c.tick ? c.tick.value : -1;
                return v % xLabelStep === 0 && v / xLabelStep < xLabels.length ? '#000000' : 'rgba(0,0,0,0)';
              },
            },
            border: { display: false, dash: [3, 3] },
          },
          y: {
            type: 'linear',
            position: 'right',
            min: yMin,
            max: yMax,
            beginAtZero: false,
            bounds: 'data',
            afterBuildTicks: (s: any) => {
              s.ticks = yTicks.map((v) => ({ value: v }));
            },
            afterFit: (s: any) => {
              s.width = 94;
              s.paddingTop = 0;
              s.paddingBottom = 0;
            },
            ticks: {
              autoSkip: false,
              padding: 4,
              color: '#000000',
              font: { family: FONT, size: 19 },
              callback: (v: any) => Number(v).toFixed(2),
            },
            grid: { color: '#c4c4c4', lineWidth: 1, drawTicks: true, tickLength: 4, tickColor: '#c4c4c4' },
            border: { display: false, dash: [3, 3] },
          },
        },
      } as any,
      plugins: [overlay],
    } as any);

    return () => chart.destroy();
  }, []);

  return (
    <div style={{ position: 'absolute', left: 0, top: 0, width: W, height: H, background: '#ffffff', overflow: 'hidden' }}>
      <canvas ref={canvasRef} width={W} height={H} style={{ display: 'block', width: W + 'px', height: H + 'px' }} />
    </div>
  );
}
